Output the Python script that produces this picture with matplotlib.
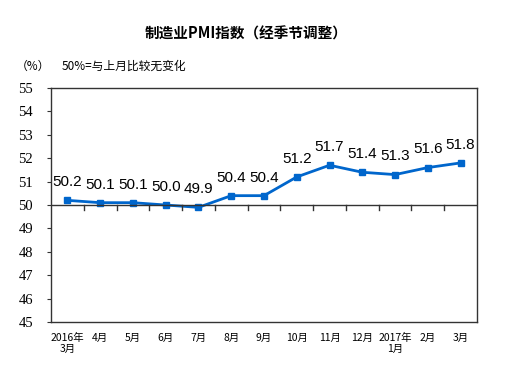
import numpy as np
import matplotlib.pyplot as plt

plt.rcParams['font.family'] = ['Noto Sans CJK SC', 'DejaVu Sans']

months = ['2016年\n3月', '4月', '5月', '6月', '7月', '8月', '9月', '10月',
          '11月', '12月', '2017年\n1月', '2月', '3月']
pmi = [50.2, 50.1, 50.1, 50.0, 49.9, 50.4, 50.4, 51.2, 51.7, 51.4, 51.3, 51.6, 51.8]
yticks = [45, 46, 47, 48, 49, 50, 51, 52, 53, 54, 55]

fig = plt.figure(figsize=(5.11, 3.73), dpi=100)
ax = fig.add_axes([0.0998, 0.1367, 0.8337, 0.6273])

x = np.arange(len(pmi))
ax.plot(x, pmi, color='#0066cc', lw=2, marker='s', ms=5)
for xi, v in zip(x, pmi):
    ax.annotate('%.1f' % v, (xi, v), xytext=(0, 8), textcoords='offset points',
                ha='center', va='bottom', fontsize=11, family='Liberation Sans')

ax.set_xlim(-0.5, len(pmi) - 0.5)
ax.set_ylim(45, 55)
ax.set_yticks(yticks)
ax.tick_params(axis='y', length=3, direction='out', color='#333333', pad=10,
               labelsize=10.5, labelfontfamily='Liberation Serif')

# 50 reference line with category boundary ticks
ax.axhline(50, color='#333333', lw=1)
for b in np.arange(0.5, len(pmi) - 1, 1):
    ax.plot([b, b], [50, 49.8], color='#333333', lw=1)

ax.set_xticks(x)
ax.set_xticklabels(months, fontsize=7.5, linespacing=1.15, va='top')
ax.tick_params(axis='x', length=0, pad=8)

for s in ax.spines.values():
    s.set_color('#333333')
    s.set_linewidth(1)

fig.text(0.481, 0.91, '制造业PMI指数（经季节调整）', ha='center', va='center',
         fontsize=10.5, fontweight='bold')
fig.text(0.03, 0.823, '（%）', ha='left', va='center', fontsize=8.5)
fig.text(0.121, 0.823, '50%=与上月比较无变化', ha='left', va='center', fontsize=8.5)

fig.savefig('out.png', dpi=100)
